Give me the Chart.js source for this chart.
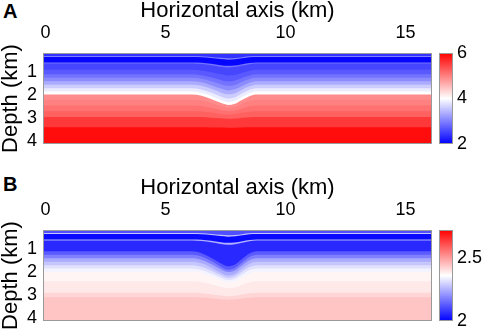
<!DOCTYPE html>
<html>
<head>
    <meta charset="UTF-8">
    <title>Velocity models</title>
    <script src="https://cdn.jsdelivr.net/npm/chart.js@4.4.1/dist/chart.umd.min.js"></script>
    <style>
        body { margin: 0; width: 484px; height: 331px; overflow: hidden; background: #fff; position: relative;
               font-family: 'Liberation Sans', Arial, sans-serif; }
        .panel { position: absolute; left: 0; width: 484px; height: 160px; }
        .letter { position: absolute; left: 3px; font-weight: bold; font-size: 20px; line-height: 20px; color: #000; }
    </style>
</head>
<body>
    <div class="letter" style="top:1px;">A</div>
    <div class="letter" style="top:174px;">B</div>
    <div class="panel" style="top:0px;"><canvas id="chartA" width="484" height="160"></canvas></div>
    <div class="panel" style="top:177px;"><canvas id="chartB" width="484" height="160"></canvas></div>

    <script>
        // x positions (km) where layer boundaries are sampled, and relative shape of the dip
        const bumpX = [-0.2, 6.1, 6.5, 6.9, 7.3, 7.6, 7.9, 8.2, 8.5, 8.8, 16.2];
        const bumpShape = [0, 0, 0.12, 0.42, 0.8, 1, 0.88, 0.5, 0.15, 0, 0];

        const xTicks = [0, 5, 10, 15];
        const depthTicks = [1, 2, 3, 4];

        // panel A : layer top depth (km), velocity (km/s), dip at the structure (km)
        const depthA = [0.17, 0.30, 0.34, 0.58, 0.63, 0.9, 1.1, 1.25, 1.4, 1.55, 1.7, 1.85, 1.98, 2.2, 2.45, 2.7, 2.95, 3.4];
        const velA = [2.4, 3.0, 2.05, 2.9, 2.55, 2.7, 2.9, 3.1, 3.35, 3.6, 3.85, 4.0, 4.9, 5.0, 5.12, 5.25, 5.55, 5.9];
        const dipA = [0, 0.1, 0.12, 0.15, 0.17, 0.25, 0.3, 0.35, 0.4, 0.42, 0.45, 0.45, 0.45, 0.35, 0.25, 0.15, 0.08, 0.02];
        const cbTicksA = [2, 4, 6];

        // panel B
        const depthB = [0.17, 0.30, 0.34, 0.58, 0.63, 1.1, 1.25, 1.4, 1.55, 1.7, 1.85, 2.0, 2.4, 2.9, 3.1];
        const velB = [2.113, 2.28, 2.014, 2.25, 2.056, 2.127, 2.18, 2.24, 2.28, 2.318, 2.345, 2.374, 2.392, 2.42, 2.443];
        const dipB = [0, 0.1, 0.12, 0.15, 0.18, 0.65, 0.65, 0.6, 0.6, 0.55, 0.5, 0.45, 0.3, 0.15, 0.1];
        const cbTicksB = [2, 2.5];

        Chart.defaults.font.family = "'Liberation Sans', Arial, sans-serif";
        Chart.defaults.color = '#000';

        function blueWhiteRed(v, vMin, vMax) {
            let t = (v - vMin) / (vMax - vMin);
            t = Math.max(0, Math.min(1, t));
            if (t < 0.5) {
                const c = Math.round(255 * t * 2);
                return `rgb(${c},${c},255)`;
            }
            const g = Math.round(255 * (1 - t) * 2);
            return `rgb(255,${g},${g})`;
        }

        const colorbarPlugin = {
            id: 'colorbar',
            afterDraw(chart) {
                const ctx = chart.ctx;
                const s = chart.scales.cb;
                const top = s.getPixelForValue(s.max);
                const bottom = s.getPixelForValue(s.min);
                const left = s.left + 7;
                const grad = ctx.createLinearGradient(0, bottom, 0, top);
                grad.addColorStop(0, 'rgb(0,0,255)');
                grad.addColorStop(0.5, 'rgb(255,255,255)');
                grad.addColorStop(1, 'rgb(255,0,0)');
                ctx.save();
                ctx.fillStyle = grad;
                ctx.fillRect(left, top, 14, bottom - top);
                ctx.strokeStyle = '#9a9a9a';
                ctx.lineWidth = 1;
                ctx.strokeRect(left + 0.5, top + 0.5, 13, bottom - top - 1);
                const a = chart.chartArea;
                ctx.strokeRect(a.left + 0.5, a.top + 0.5, a.right - a.left - 1, a.bottom - a.top - 1);
                ctx.restore();
            }
        };

        // tick gap is set through tickLength (marks hidden) so it does not pad the chart area
        function hiddenGrid(gap) {
            return { display: false, drawTicks: true, tickLength: gap };
        }

        function makeChart(id, depths, vels, dips, vMin, vMax, cbTicks) {
            const n = depths.length;
            const datasets = depths.map((d, k) => ({
                data: bumpX.map((x, i) => ({ x: x, y: d + dips[k] * bumpShape[i] })),
                fill: 'start',
                backgroundColor: blueWhiteRed(vels[k], vMin, vMax),
                borderColor: 'rgba(0,0,0,0)',
                borderWidth: 0,
                pointRadius: 0,
                cubicInterpolationMode: 'monotone',
                order: n - k
            }));

            return new Chart(document.getElementById(id), {
                type: 'line',
                data: { datasets: datasets },
                options: {
                    responsive: false,
                    animation: false,
                    events: [],
                    layout: { padding: { top: 0, bottom: 16, left: 0, right: 0 } },
                    plugins: { legend: { display: false }, tooltip: { enabled: false } },
                    scales: {
                        x: {
                            type: 'linear', position: 'top', min: -0.1, max: 16.1,
                            grid: hiddenGrid(9), border: { display: false },
                            ticks: { font: { size: 18 }, color: '#000', padding: 0, maxRotation: 0, autoSkip: false },
                            afterBuildTicks: s => { s.ticks = xTicks.map(v => ({ value: v })); },
                            afterFit: s => { s.height = 53; },
                            title: { display: true, text: 'Horizontal axis (km)', font: { size: 22, lineHeight: 1 }, color: '#000', padding: 0 }
                        },
                        y: {
                            type: 'linear', position: 'left', reverse: true, min: 0.17, max: 4.13,
                            grid: hiddenGrid(6), border: { display: false },
                            ticks: { font: { size: 18 }, color: '#000', padding: 0, autoSkip: false },
                            afterBuildTicks: s => { s.ticks = depthTicks.map(v => ({ value: v })); },
                            afterFit: s => { s.width = 43; },
                            title: { display: true, text: 'Depth (km)', font: { size: 22, lineHeight: 1 }, color: '#000', padding: 0 }
                        },
                        cb: {
                            type: 'linear', position: 'right', min: vMin, max: vMax,
                            grid: hiddenGrid(25), border: { display: false },
                            ticks: { font: { size: 18 }, color: '#000', padding: 0, autoSkip: false, callback: v => String(v) },
                            afterBuildTicks: s => { s.ticks = cbTicks.map(v => ({ value: v })); },
                            afterFit: s => { s.width = 52; }
                        }
                    }
                },
                plugins: [colorbarPlugin]
            });
        }

        makeChart('chartA', depthA, velA, dipA, 2, 6, cbTicksA);
        makeChart('chartB', depthB, velB, dipB, 2, 2.72, cbTicksB);
    </script>
</body>
</html>
